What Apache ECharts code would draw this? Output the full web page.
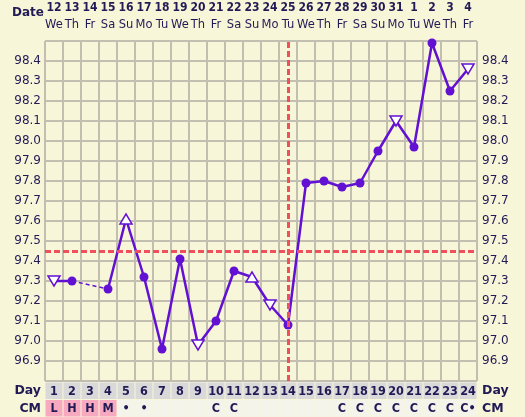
<!DOCTYPE html>
<html>
<head>
<meta charset="utf-8">
<script src="https://cdn.jsdelivr.net/npm/echarts@6/dist/echarts.min.js"></script>
<style>
  html, body { margin: 0; padding: 0; background: #f8f6d9; }
  #chart { width: 525px; height: 417px; }
</style>
</head>
<body>
<div id="chart"></div>
<script>
// cycle days
const days = ['1','2','3','4','5','6','7','8','9','10','11','12','13','14','15','16','17','18','19','20','21','22','23','24'];
// calendar date + weekday for each cycle day
const dates = ['12','13','14','15','16','17','18','19','20','21','22','23','24','25','26','27','28','29','30','31','1','2','3','4'];
const weekdays = ['We','Th','Fr','Sa','Su','Mo','Tu','We','Th','Fr','Sa','Su','Mo','Tu','We','Th','Fr','Sa','Su','Mo','Tu','We','Th','Fr'];
// temperatures (null = not recorded)
const temps = [97.30, 97.30, null, 97.26, 97.61, 97.32, 96.96, 97.41, 96.98, 97.10, 97.35, 97.32, 97.18, 97.08,
               97.79, 97.80, 97.77, 97.79, 97.95, 98.10, 97.97, 98.49, 98.25, 98.36];
// marker shape per day: circle / up / down (open triangles)
const markers = ['down','circle','none','circle','up','circle','circle','circle','down','circle','circle','up','down','circle',
                 'circle','circle','circle','circle','circle','down','circle','circle','circle','down'];
// cervical mucus row
const cmValues = ['L','H','H','M','•','•','','','','C','C','','','','','','C','C','C','C','C','C','C','C•'];
const cmPink = ['L','H','M'];
const coverline = 97.45;
const ovulationDay = '14';

const purple = '#6210d2';
const red = '#f0505c';
const gridColor = '#c3bfb0';
const textColor = '#221a55';

const chart = echarts.init(document.getElementById('chart'));

// main series points with per-point marker style
const mainData = temps.map((v, i) => {
  const m = markers[i];
  if (v === null) return null;
  if (m === 'circle') {
    return { value: v, symbol: 'circle', symbolSize: 9, itemStyle: { color: purple, borderWidth: 0 } };
  }
  return {
    value: v, symbol: 'triangle', symbolSize: [12, 10], symbolRotate: m === 'down' ? 180 : 0,
    itemStyle: { color: '#ffffff', borderColor: purple, borderWidth: 1.5 }
  };
});

// dashed bridge across missing days
const bridgeData = temps.map(() => null);
temps.forEach((v, i) => {
  if (v === null) {
    let a = i - 1, b = i + 1;
    while (a >= 0 && temps[a] === null) a--;
    while (b < temps.length && temps[b] === null) b++;
    if (a >= 0 && b < temps.length) { bridgeData[a] = temps[a]; bridgeData[b] = temps[b]; }
  }
});

// bottom table cells
const tableData = [];
days.forEach((d, i) => {
  tableData.push([i, 1, d, '#d9d9d9']);
  tableData.push([i, 0, cmValues[i], cmPink.indexOf(cmValues[i]) >= 0 ? '#f7a9bf' : '#f5f4ea']);
});

const yLabel = {
  color: textColor, fontFamily: 'DejaVu Sans', fontSize: 12,
  formatter: v => (v < 96.85 || v > 98.45) ? '' : v.toFixed(1)
};
const sideLabel = {
  color: textColor, fontFamily: 'DejaVu Sans', fontWeight: 'bold', fontSize: 12.5
};

const option = {
  backgroundColor: '#f8f6d9',
  animation: false,
  grid: [
    { left: 45, right: 48, top: 41, height: 340, outerBoundsMode: 'none' },
    { left: 45, right: 48, top: 382, height: 35, outerBoundsMode: 'none' }
  ],
  graphic: [{
    type: 'text', left: 12, top: 7,
    style: { text: 'Date', fill: textColor, font: 'bold 12px "DejaVu Sans"' }
  }],
  xAxis: [
    {
      type: 'category', data: days, gridIndex: 0, position: 'bottom',
      axisLine: { show: false }, axisTick: { show: false }, axisLabel: { show: false },
      splitLine: { show: true, lineStyle: { color: gridColor, width: 2 } }
    },
    {
      // weekday row
      type: 'category', data: weekdays, gridIndex: 0, position: 'top',
      axisLine: { show: false }, axisTick: { show: false },
      axisLabel: { margin: 10, interval: 0, color: textColor, fontFamily: 'DejaVu Sans', fontSize: 11.5 }
    },
    {
      // date row
      type: 'category', data: dates, gridIndex: 0, position: 'top', offset: 17,
      axisLine: { show: false }, axisTick: { show: false },
      axisLabel: { margin: 10, interval: 0, color: textColor, fontFamily: 'DejaVu Sans Condensed', fontWeight: 'bold', fontSize: 12 }
    },
    {
      type: 'category', data: days, gridIndex: 1,
      axisLine: { show: false }, axisTick: { show: false }, axisLabel: { show: false }
    }
  ],
  yAxis: [
    {
      type: 'value', gridIndex: 0, position: 'left', min: 96.8, max: 98.5, interval: 0.1,
      axisLine: { show: false }, axisTick: { show: false },
      axisLabel: Object.assign({ margin: 4 }, yLabel),
      splitLine: { show: true, lineStyle: { color: gridColor, width: 2 } }
    },
    {
      type: 'value', gridIndex: 0, position: 'right', min: 96.8, max: 98.5, interval: 0.1,
      axisLine: { show: false }, axisTick: { show: false },
      axisLabel: Object.assign({ margin: 5 }, yLabel),
      splitLine: { show: false }
    },
    {
      type: 'category', gridIndex: 1, position: 'left', data: ['CM', 'Day'],
      axisLine: { show: false }, axisTick: { show: false },
      axisLabel: Object.assign({ margin: 4 }, sideLabel)
    },
    {
      type: 'category', gridIndex: 1, position: 'right', data: ['CM', 'Day'],
      axisLine: { show: false }, axisTick: { show: false },
      axisLabel: Object.assign({ margin: 5 }, sideLabel)
    }
  ],
  series: [
    {
      type: 'line', xAxisIndex: 0, yAxisIndex: 0, data: bridgeData, connectNulls: true,
      symbol: 'none', lineStyle: { color: purple, width: 1.5, type: [4, 3] }, z: 3
    },
    {
      type: 'line', xAxisIndex: 0, yAxisIndex: 0, data: mainData, connectNulls: false,
      lineStyle: { color: purple, width: 2.5 }, z: 4,
      markLine: {
        silent: true, symbol: 'none', label: { show: false },
        lineStyle: { color: red, width: 3, type: [6, 3] },
        data: [{ yAxis: coverline }, { xAxis: ovulationDay }]
      }
    },
    {
      type: 'custom', xAxisIndex: 3, yAxisIndex: 2, data: tableData,
      renderItem: (params, api) => {
        const c = api.coord([api.value(0), api.value(1)]);
        const s = api.size([1, 1]);
        const item = tableData[params.dataIndex];
        return {
          type: 'group',
          children: [
            {
              type: 'rect',
              shape: { x: c[0] - s[0] / 2 + 0.5, y: c[1] - s[1] / 2 + 0.5, width: s[0] - 1, height: s[1] - 1 },
              style: { fill: item[3] }
            },
            {
              type: 'text',
              style: {
                x: c[0], y: c[1] + 0.5, text: item[2], align: 'center', verticalAlign: 'middle',
                fill: textColor, font: 'bold 12.5px "DejaVu Sans Condensed", "DejaVu Sans"'
              }
            }
          ]
        };
      }
    }
  ]
};

chart.setOption(option);
</script>
</body>
</html>
